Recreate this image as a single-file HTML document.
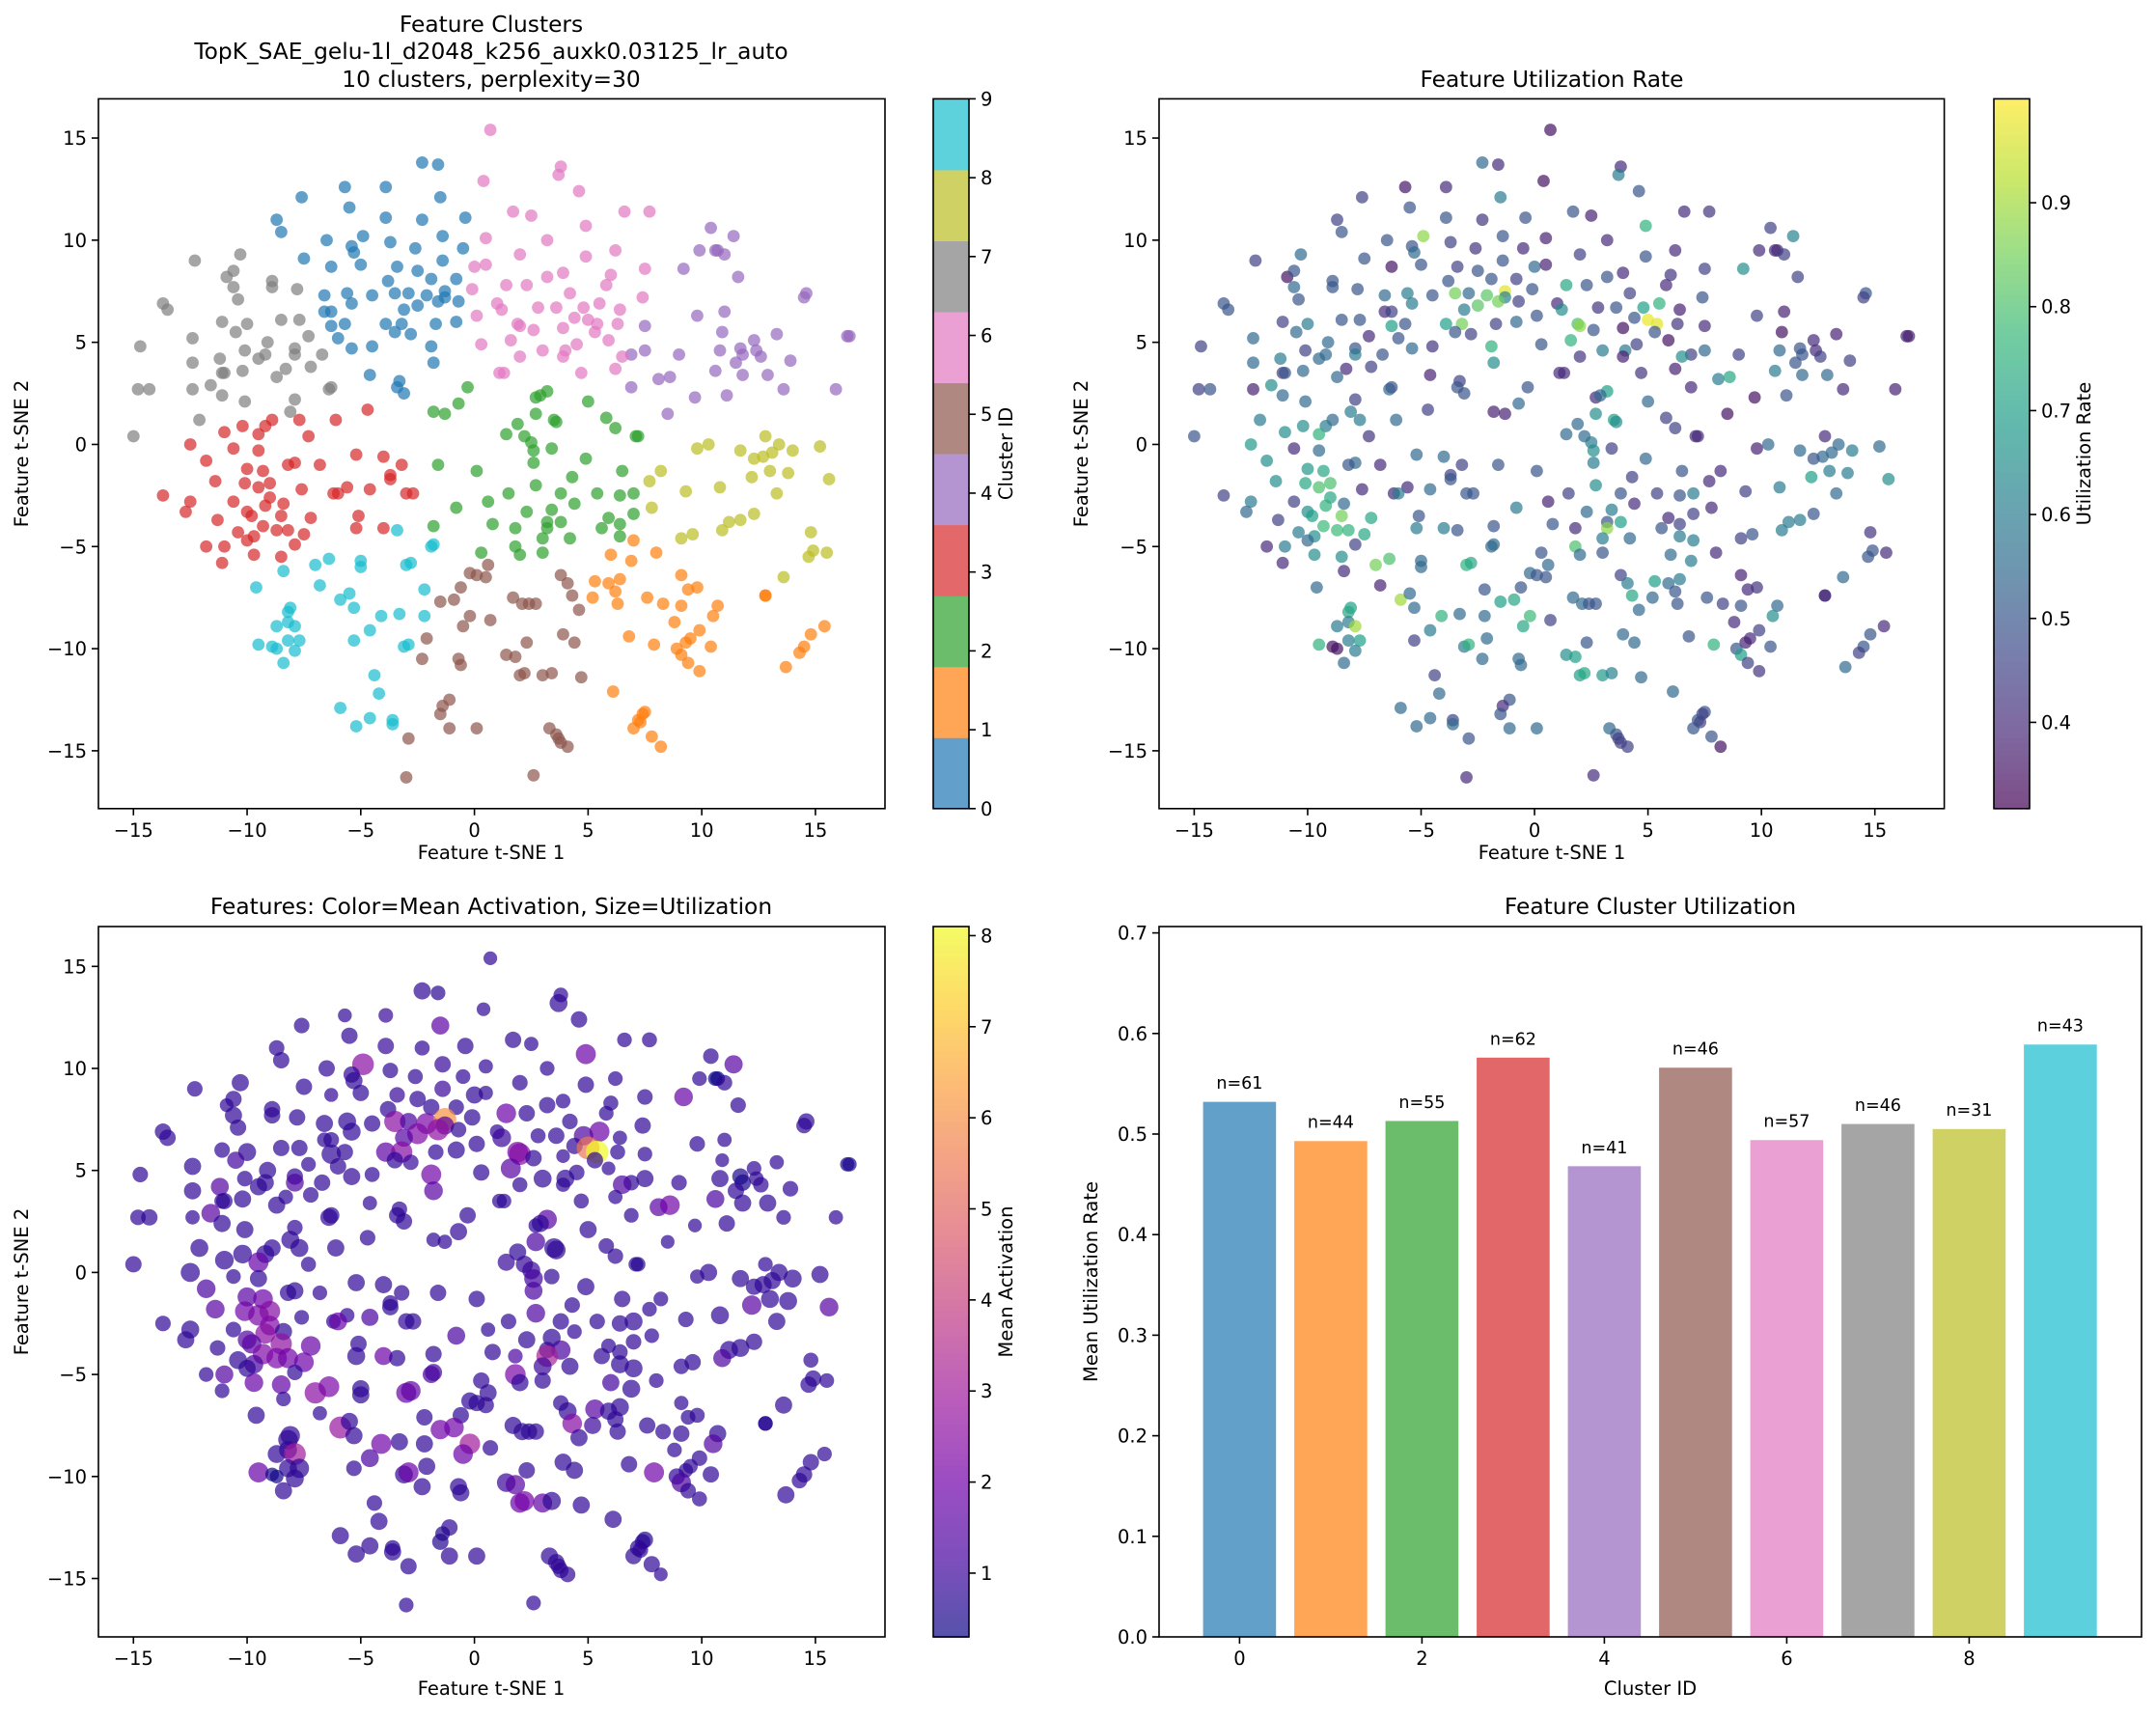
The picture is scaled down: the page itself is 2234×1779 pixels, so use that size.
<!DOCTYPE html>
<html><head><meta charset="utf-8"><style>
html,body{margin:0;padding:0;background:#fff}
svg text{font-family:"DejaVu Sans","Liberation Sans",sans-serif;fill:#000}
</style></head><body>
<svg id="fig" xmlns="http://www.w3.org/2000/svg" width="2234" height="1774" viewBox="0 0 2234 1774">
<rect width="2234" height="1774" fill="#fff"/>
<g id="g-tl"></g>
<g id="g-tr"></g>
<g id="g-bl"></g>
<g id="g-br"></g>
</svg>
<script>
// ---- data: [tsneX, tsneY, utilization, meanActivation] per feature, grouped by cluster ----
const cluster0 = [[-2.3,13.8,.55,.8],[-1.6,13.7,.4,.7],[-5.7,12.6,.36,.8],[-3.9,12.6,.4,.9],[-7.6,12.1,.45,.8],[-1.5,12.1,.6,1.6],[-5.5,11.6,.5,.8],[-8.7,11.0,.45,.8],[-3.9,11.1,.5,.9],[-2.3,11.0,.42,.8],[-0.4,11.1,.5,.8],[-8.5,10.4,.5,.8],[-6.5,10.0,.5,.8],[-4.9,10.2,.88,2.5],[-1.4,10.2,.5,.9],[-3.7,9.9,.45,.8],[-5.4,9.7,.5,.8],[-5.3,9.4,.55,.8],[-2.6,9.6,.42,.8],[-0.5,9.6,.4,.8],[-7.5,9.1,.5,.8],[-1.4,9.0,.5,1.0],[-6.3,8.7,.36,.8],[-5.0,8.8,.5,.8],[-3.4,8.7,.45,.9],[-2.5,8.5,.5,.8],[-3.8,8.0,.5,.8],[-1.9,8.1,.5,.8],[-0.8,8.1,.45,.8],[-6.6,7.3,.55,.8],[-5.6,7.4,.6,.8],[-4.5,7.3,.5,.8],[-3.5,7.4,.85,2.5],[-2.9,7.4,.55,1.2],[-2.1,7.3,.82,2.2],[-1.3,7.5,.97,6.1],[-1.3,7.2,.62,1.5],[-5.4,6.9,.6,.8],[-2.5,6.8,.82,2.3],[-1.6,7.0,.85,2.6],[-0.7,7.0,.45,.8],[-6.6,6.5,.4,.8],[-6.3,6.5,.45,.8],[-3.1,6.6,.6,1.4],[-6.3,5.8,.7,.8],[-5.7,5.9,.5,.8],[-3.9,5.9,.7,1.6],[-3.2,5.9,.85,2.4],[-1.7,5.9,.45,.8],[-0.8,6.0,.55,.8],[-6.0,5.2,.5,.8],[-3.5,5.5,.5,.8],[-2.8,5.4,.45,.9],[-5.4,4.7,.55,.8],[-4.5,4.8,.42,.8],[-1.9,4.8,.75,2.0],[-1.8,4.0,.65,1.5],[-4.6,3.4,.38,.8],[-3.3,3.1,.45,.8],[-3.4,2.8,.5,.8],[-3.1,2.5,.5,.8]];
const cluster1 = [[7.0,-4.7,.6,.8],[6.0,-5.4,.55,1.1],[6.9,-5.7,.6,.8],[8.0,-5.3,.4,.8],[5.3,-6.7,.7,1.5],[5.9,-6.8,.55,.8],[6.4,-6.6,.6,.8],[6.2,-7.2,.5,.8],[9.1,-6.4,.38,.8],[9.4,-7.1,.4,.8],[9.8,-7.0,.42,.8],[12.8,-7.4,.4,.7],[12.8,-7.4,.4,.7],[5.2,-7.5,.55,1.0],[6.3,-7.8,.5,.8],[7.6,-7.5,.5,.8],[8.3,-7.8,.45,.8],[9.1,-7.9,.5,.8],[10.7,-7.9,.55,.8],[10.5,-8.4,.65,1.4],[8.8,-8.7,.4,.8],[6.8,-9.4,.5,.8],[7.9,-9.8,.75,2.0],[9.9,-9.1,.45,.8],[9.5,-9.5,.4,.8],[9.3,-9.7,.38,.8],[8.9,-10.0,.5,.8],[9.1,-10.3,.7,1.3],[10.4,-9.9,.5,.8],[9.4,-10.7,.45,.8],[9.9,-11.1,.42,.8],[15.4,-8.9,.4,.8],[14.8,-9.3,.5,.8],[14.5,-9.9,.5,.8],[14.3,-10.2,.45,.8],[13.7,-10.9,.55,.8],[6.1,-12.1,.55,.8],[7.5,-13.1,.5,.7],[7.4,-13.2,.45,.7],[7.2,-13.5,.5,.8],[7.3,-13.6,.45,.8],[7.0,-13.9,.5,.8],[7.8,-14.3,.5,.8],[8.2,-14.8,.35,.8]];
const cluster2 = [[-0.3,2.8,.5,.8],[-0.7,2.0,.55,.8],[-1.8,1.6,.38,.8],[-1.3,1.5,.38,.8],[3.2,2.6,.7,1.5],[2.7,2.3,.4,.8],[2.9,2.4,.55,.8],[2.7,1.5,.65,1.2],[1.9,1.0,.55,.8],[3.5,1.2,.7,.8],[3.6,1.1,.65,.8],[5.0,2.1,.55,.8],[5.8,1.3,.45,.8],[6.2,0.8,.45,.8],[7.1,0.4,.4,.7],[7.2,0.4,.4,.7],[1.4,0.5,.55,.9],[2.2,0.4,.55,.9],[2.5,0.1,.6,1.0],[2.6,-0.3,.65,1.1],[3.4,-0.2,.45,.8],[4.9,-0.7,.55,.8],[-1.6,-1.0,.5,.8],[0.1,-1.3,.5,.8],[2.6,-0.9,.6,1.2],[6.5,-1.3,.5,.8],[4.3,-1.6,.45,.8],[2.7,-2.0,.65,1.3],[1.5,-2.4,.45,.8],[3.8,-2.4,.5,.8],[5.4,-2.4,.45,.8],[6.4,-2.5,.5,.8],[7.0,-2.4,.6,.8],[0.6,-2.8,.38,.8],[-0.8,-3.1,.6,1.2],[3.4,-3.2,.6,.8],[4.4,-2.9,.4,.8],[2.3,-3.3,.55,.8],[7.0,-3.4,.45,.8],[0.8,-3.9,.5,.8],[3.2,-3.8,.5,.8],[3.8,-3.8,.7,1.2],[5.9,-3.6,.4,.8],[6.4,-3.9,.45,.8],[5.6,-4.1,.5,.8],[-1.8,-4.0,.5,.8],[1.8,-4.1,.4,1.2],[3.2,-4.1,.88,3.2],[6.4,-4.5,.6,.8],[3.0,-4.6,.6,1.0],[4.2,-4.6,.55,.8],[1.8,-5.0,.8,2.2],[2.0,-5.4,.55,.8],[3.0,-5.3,.5,.8],[0.3,-5.3,.5,.8]];
const cluster3 = [[-4.7,1.7,.45,.8],[-6.1,1.2,.55,.8],[-7.7,1.2,.6,.8],[-8.9,1.2,.55,.8],[-10.2,0.9,.65,.8],[-9.2,0.9,.6,.8],[-11.0,0.6,.65,.8],[-9.5,0.5,.75,1.8],[-7.3,0.4,.42,.8],[-12.5,0.0,.68,.8],[-10.6,-0.2,.4,.8],[-9.5,-0.3,.55,.8],[-5.2,-0.5,.55,.8],[-4.0,-0.6,.55,.8],[-11.8,-0.8,.65,1.2],[-7.9,-0.9,.55,.8],[-8.2,-1.0,.5,.8],[-6.8,-1.0,.4,.8],[-3.2,-1.0,.45,.8],[-10.0,-1.2,.68,1.5],[-9.3,-1.3,.72,1.9],[-3.7,-1.5,.45,.8],[-3.7,-1.7,.5,.8],[-11.4,-1.8,.65,1.5],[-10.1,-1.9,.72,2.0],[-9.5,-2.1,.8,2.2],[-9.0,-1.9,.8,2.4],[-7.6,-2.2,.4,.8],[-5.6,-2.1,.4,.8],[-4.6,-2.2,.55,1.2],[-3.0,-2.4,.5,.8],[-2.7,-2.4,.5,.8],[-6.2,-2.4,.4,.8],[-6.0,-2.4,.6,1.8],[-13.7,-2.5,.45,.8],[-9.0,-2.6,.72,2.3],[-12.5,-2.8,.6,.8],[-10.6,-2.8,.45,.8],[-9.2,-3.0,.75,2.5],[-8.4,-2.9,.55,.8],[-12.7,-3.3,.55,.8],[-10.0,-3.3,.65,1.4],[-9.8,-3.5,.7,1.5],[-8.5,-3.5,.85,2.6],[-5.1,-3.5,.5,.8],[-7.2,-3.6,.72,1.8],[-11.3,-3.7,.45,.8],[-9.3,-4.0,.78,2.3],[-10.4,-4.3,.6,.8],[-8.7,-4.2,.78,2.2],[-8.2,-4.2,.75,2.0],[-7.5,-4.4,.72,1.9],[-4.0,-4.1,.6,1.9],[-5.2,-4.1,.6,.8],[-9.7,-4.5,.65,1.2],[-10.0,-4.7,.55,.8],[-7.9,-4.9,.45,.8],[-11.8,-5.0,.4,.8],[-11.0,-5.0,.6,1.4],[-9.7,-5.4,.65,1.8],[-8.5,-5.5,.65,1.7],[-11.1,-5.8,.4,.8]];
const cluster4 = [[10.4,10.6,.45,.8],[11.4,10.2,.62,1.5],[9.9,9.5,.4,.8],[10.6,9.5,.4,.3],[10.7,9.5,.4,.3],[11.0,9.3,.45,.8],[9.2,8.6,.65,1.8],[11.6,8.2,.45,.8],[14.6,7.4,.5,.8],[14.5,7.2,.45,.8],[9.8,6.3,.45,.8],[11.0,6.5,.38,.8],[7.5,5.8,.4,.8],[10.9,5.5,.35,.8],[12.3,5.1,.4,.8],[13.3,5.4,.38,.8],[16.4,5.3,.38,.5],[16.5,5.3,.38,.5],[6.9,4.4,.45,.8],[7.5,4.6,.55,.8],[9.0,4.4,.45,.8],[10.8,4.6,.55,.8],[11.7,4.7,.5,.5],[11.8,4.4,.5,.5],[12.4,4.6,.4,.8],[12.6,4.3,.45,.8],[11.5,4.0,.5,.8],[13.9,4.1,.45,.8],[10.6,3.6,.6,1.2],[11.8,3.4,.55,.8],[12.9,3.4,.55,.8],[8.1,3.2,.6,1.5],[8.6,3.3,.72,2.0],[6.9,2.8,.4,.8],[13.6,2.7,.4,.8],[15.9,2.7,.38,.8],[9.7,2.3,.35,.8],[11.1,2.4,.5,.8],[8.5,1.5,.35,.8]];
const cluster5 = [[0.6,-5.9,.55,.8],[-0.2,-6.3,.55,.8],[0.1,-6.4,.5,.8],[0.5,-6.5,.5,.8],[-0.6,-7.0,.5,.8],[3.8,-6.4,.45,.8],[4.1,-6.8,.6,.8],[-1.5,-7.7,.7,2.0],[-0.9,-7.6,.72,2.0],[1.7,-7.5,.55,.8],[2.1,-7.8,.55,.8],[2.4,-7.8,.5,.8],[2.7,-7.8,.5,.8],[4.3,-7.4,.72,2.4],[4.6,-8.1,.55,.8],[-0.2,-8.4,.78,3.0],[0.7,-8.6,.45,.8],[-0.5,-8.9,.72,1.9],[-2.1,-9.5,.55,.8],[3.9,-9.3,.55,.8],[4.4,-9.7,.55,.8],[2.3,-9.7,.5,.8],[1.4,-10.3,.65,1.0],[1.8,-10.4,.7,1.5],[-2.3,-10.5,.55,.8],[-0.7,-10.5,.55,.8],[-0.6,-10.8,.55,.8],[2.0,-11.3,.7,1.9],[2.2,-11.2,.72,2.1],[3.0,-11.3,.68,1.7],[3.4,-11.2,.62,.8],[4.7,-11.4,.55,.8],[-1.1,-12.5,.5,.8],[-1.4,-12.8,.4,.6],[-1.5,-13.2,.5,.6],[-1.1,-13.9,.55,.8],[0.1,-13.9,.55,.8],[3.3,-13.9,.55,.8],[3.6,-14.2,.5,.8],[3.7,-14.4,.45,.8],[3.8,-14.6,.45,.8],[4.1,-14.8,.45,.8],[-2.9,-14.4,.5,.8],[-3.0,-16.3,.4,.8],[2.6,-16.2,.4,.8]];
const cluster6 = [[0.7,15.4,.35,.8],[0.4,12.9,.35,.8],[3.8,13.6,.4,.8],[3.7,13.2,.6,.8],[4.6,12.4,.5,.8],[1.7,11.4,.5,.8],[2.5,11.2,.38,.8],[6.6,11.4,.4,.8],[7.7,11.4,.42,.8],[4.9,10.7,.75,1.9],[0.5,10.1,.38,.8],[3.2,10.0,.4,.8],[2.0,9.3,.45,.8],[4.9,9.2,.5,.8],[6.2,9.5,.4,.8],[0.0,8.7,.55,.8],[0.5,8.8,.38,.8],[3.9,8.4,.4,.8],[7.5,8.6,.45,.8],[3.2,8.2,.5,.8],[6.0,8.3,.42,.8],[1.4,7.8,.72,1.9],[2.3,7.8,.5,.8],[5.8,7.8,.4,.8],[-0.1,7.6,.5,.8],[4.2,7.4,.45,.8],[7.4,7.2,.5,.8],[1.0,6.9,.4,.8],[1.2,6.6,.65,1.0],[3.6,6.7,.5,.8],[2.8,6.7,.42,.8],[4.8,6.7,.7,1.3],[5.5,6.9,.75,1.9],[6.4,6.6,.38,.8],[0.1,6.3,.5,.8],[4.4,6.2,.5,.8],[5.0,6.1,.98,5.4],[1.9,5.9,.8,2.2],[2.0,5.8,.88,2.4],[5.4,5.9,.97,8.1],[6.3,5.9,.42,.8],[2.6,5.6,.5,.8],[3.9,5.7,.35,.8],[5.3,5.5,.5,.8],[1.6,5.1,.75,1.5],[5.9,5.1,.35,.8],[0.3,4.9,.5,.8],[4.5,4.9,.45,.8],[3.0,4.6,.6,.8],[4.0,4.6,.6,.8],[3.9,4.3,.38,.8],[2.0,4.3,.42,.8],[6.5,4.3,.65,1.3],[6.2,3.7,.38,.8],[4.7,3.5,.42,.8],[1.1,3.5,.4,.8],[1.3,3.5,.4,.8]];
const cluster7 = [[-12.3,9.0,.45,.8],[-10.3,9.3,.55,.8],[-10.9,8.2,.35,.8],[-10.6,8.5,.5,.8],[-10.6,7.7,.55,.8],[-10.4,7.1,.5,.8],[-8.9,8.0,.5,.8],[-8.9,7.7,.5,.8],[-7.8,7.6,.5,.8],[-13.7,6.9,.5,.8],[-13.5,6.6,.5,.8],[-11.1,6.0,.45,.8],[-10.0,5.9,.6,.8],[-10.5,5.5,.55,1.1],[-8.5,6.1,.5,.8],[-7.7,6.1,.5,.8],[-7.3,5.3,.4,.8],[-12.4,5.2,.55,.8],[-14.7,4.8,.45,.8],[-9.1,5.0,.55,.8],[-10.1,4.6,.45,.8],[-9.2,4.4,.55,.8],[-9.5,4.2,.55,.8],[-7.9,4.7,.5,.8],[-7.9,4.4,.6,1.3],[-6.7,4.4,.5,.8],[-12.4,4.0,.55,.8],[-11.2,4.2,.6,1.4],[-10.2,3.6,.55,.8],[-8.3,3.7,.4,.8],[-7.2,3.8,.45,.8],[-11.1,3.5,.45,.8],[-11.0,3.5,.5,.8],[-8.7,3.3,.55,.8],[-14.8,2.7,.45,.8],[-14.3,2.7,.5,.8],[-12.4,2.7,.38,.8],[-11.6,2.9,.65,1.5],[-11.1,2.4,.55,.8],[-6.4,2.7,.55,.8],[-6.3,2.8,.5,.8],[-7.9,2.2,.45,.8],[-10.1,2.1,.55,.8],[-8.1,1.6,.6,.8],[-12.1,1.2,.6,.8],[-15.0,0.4,.5,.8]];
const cluster8 = [[12.8,0.4,.4,.8],[13.4,0.0,.55,.8],[10.3,0.0,.55,.8],[9.8,-0.2,.38,.8],[11.7,-0.3,.55,.8],[12.7,-0.6,.55,.8],[12.3,-0.7,.5,.8],[13.1,-0.4,.55,.8],[14.0,-0.3,.6,.8],[15.2,-0.1,.55,.8],[8.2,-1.3,.4,.8],[13.0,-1.3,.6,.8],[13.8,-1.4,.6,.8],[12.2,-1.6,.7,1.5],[7.7,-1.8,.4,.8],[15.6,-1.7,.65,1.5],[10.8,-2.1,.6,.8],[9.3,-2.3,.45,.8],[13.3,-2.4,.55,.8],[7.8,-3.1,.4,.8],[12.3,-3.4,.5,.8],[11.7,-3.7,.6,.8],[11.2,-3.8,.6,.8],[10.9,-4.2,.6,1.3],[9.6,-4.4,.5,.8],[9.1,-4.6,.45,.8],[14.8,-4.3,.42,.8],[14.9,-5.2,.5,.8],[15.5,-5.3,.4,.8],[14.7,-5.5,.5,.8],[13.6,-6.5,.55,.8]];
const cluster9 = [[-3.4,-4.2,.5,.8],[-1.8,-4.9,.55,1.1],[-1.9,-5.0,.55,1.2],[-7.0,-5.9,.85,2.5],[-6.4,-5.6,.8,2.2],[-5.0,-5.7,.55,.8],[-5.0,-6.0,.55,.8],[-3.0,-5.9,.75,1.8],[-2.8,-5.8,.72,1.7],[-8.4,-6.2,.4,.8],[-9.6,-7.0,.55,.8],[-6.8,-6.9,.38,.8],[-2.2,-7.1,.5,.8],[-5.9,-7.6,.9,2.8],[-5.5,-7.3,.55,.8],[-5.3,-8.0,.55,.8],[-8.1,-8.0,.7,.8],[-8.2,-8.2,.72,.8],[-8.2,-8.7,.6,.8],[-8.7,-8.9,.6,.8],[-7.9,-8.9,.9,3.0],[-4.1,-8.4,.75,2.0],[-3.3,-8.3,.55,.8],[-2.2,-8.4,.55,.8],[-4.6,-9.1,.6,1.2],[-8.2,-9.6,.6,.8],[-7.7,-9.6,.7,.8],[-9.5,-9.8,.75,1.8],[-8.9,-9.9,.35,.4],[-8.7,-10.0,.35,.4],[-7.9,-10.1,.6,.8],[-5.3,-9.6,.45,.8],[-3.1,-9.9,.6,.8],[-2.9,-9.8,.75,1.9],[-8.4,-10.7,.55,.8],[-4.4,-11.3,.45,.8],[-4.2,-12.2,.55,.8],[-5.9,-12.9,.55,.8],[-5.2,-13.8,.55,.8],[-4.6,-13.4,.55,.8],[-3.6,-13.5,.45,.7],[-3.6,-13.7,.55,.8]];
const clusterMeans = [0.532, 0.493, 0.513, 0.576, 0.468, 0.566, 0.494, 0.510, 0.505, 0.589];
const clusterCounts = [61, 44, 55, 62, 41, 46, 57, 46, 31, 43];
const tsneTicks = [-15, -10, -5, 0, 5, 10, 15];
const barYTicks = [0, 0.1, 0.2, 0.3, 0.4, 0.5, 0.6, 0.7];
const barXTicks = [0, 2, 4, 6, 8];
const utilCbTicks = [0.4, 0.5, 0.6, 0.7, 0.8, 0.9];
const actCbTicks = [1, 2, 3, 4, 5, 6, 7, 8];
const clusterCbTicks = [0,1,2,3,4,5,6,7,8,9];

const clusters = [cluster0,cluster1,cluster2,cluster3,cluster4,cluster5,cluster6,cluster7,cluster8,cluster9];
const TAB10 = ['#1f77b4','#ff7f0e','#2ca02c','#d62728','#9467bd','#8c564b','#e377c2','#7f7f7f','#bcbd22','#17becf'];
const VIR = ['#440154','#482878','#3e4989','#31688e','#26828e','#1f9e89','#35b779','#6ece58','#b5de2b','#fde725'];
const PLA = ['#0d0887','#46039f','#7201a8','#9c179e','#bd3786','#d8576b','#ed7953','#fb9f3a','#fdca26','#f0f921'];
function hex(h){return [parseInt(h.slice(1,3),16),parseInt(h.slice(3,5),16),parseInt(h.slice(5,7),16)];}
function cmapRGB(stops,t){t=Math.max(0,Math.min(1,t));const n=stops.length-1;const i=Math.min(n-1,Math.floor(t*n));const f=t*n-i;const a=hex(stops[i]),b=hex(stops[i+1]);return a.map((v,k)=>v+(b[k]-v)*f);}
function cmap(stops,t){return 'rgb('+cmapRGB(stops,t).map(Math.round).join(',')+')';}
function cmapW(stops,t){return 'rgb('+cmapRGB(stops,t).map(v=>Math.round(v*0.7+255*0.3)).join(',')+')';}
function hexW(h){return 'rgb('+hex(h).map(v=>Math.round(v*0.7+255*0.3)).join(',')+')';}
const NS='http://www.w3.org/2000/svg';
function el(parent,tag,attrs,text){const e=document.createElementNS(NS,tag);for(const k in attrs)e.setAttribute(k,attrs[k]);if(text!==undefined)e.textContent=text;parent.appendChild(e);return e;}
function fmtTick(v){return v<0?'\u2212'+Math.abs(v):String(v);}

function scatterAxes(g,L,R,T,B,xmin,xmax,ymin,ymax){
  const sx=v=>L+(v-xmin)/(xmax-xmin)*(R-L);
  const sy=v=>B-(v-ymin)/(ymax-ymin)*(B-T);
  return {sx,sy};
}
function drawFrame(g,L,R,T,B){
  const f=el(g,'rect',{x:L,y:T,width:R-L,height:B-T,fill:'none',stroke:'#000','stroke-width':1.6});
  
  
}
function xTicks(g,ticks,sx,B,fmt){
  ticks.forEach(t=>{const x=sx(t);
    const l=el(g,'line',{x1:x,x2:x,y1:B,y2:B+7,stroke:'#000','stroke-width':1.6});
    
    
    const tx=el(g,'text',{x:x,y:B+29,'font-size':19.5,'text-anchor':'middle'},fmt(t));
    
    });
}
function yTicks(g,ticks,sy,L,fmt){
  ticks.forEach(t=>{const y=sy(t);
    const l=el(g,'line',{x1:L-7,x2:L,y1:y,y2:y,stroke:'#000','stroke-width':1.6});
    
    
    const tx=el(g,'text',{x:L-12,y:y+7,'font-size':19.5,'text-anchor':'end'},fmt(t));
    
    });
}
function label(g,x,y,txt,size,rot,name){
  const a={x:x,y:y,'font-size':size,'text-anchor':'middle'};
  if(rot)a.transform='rotate(-90 '+x+' '+y+')';
  const t=el(g,'text',a,txt);
  
  
}
function gradBar(g,x0,x1,T,B,stops){
  const n=120;
  for(let i=0;i<n;i++){
    const r=el(g,'rect',{x:x0,y:B-(i+1)/n*(B-T),width:x1-x0,height:(B-T)/n+0.8,fill:cmapW(stops,(i+0.5)/n)});
    
    }
  drawFrame(g,x0,x1,T,B);
}

// --- Top-left: clusters ---
(function(){
  const g=document.getElementById('g-tl');
  const L=102,R=917,T=102.4,B=837.8;
  const {sx,sy}=scatterAxes(g,L,R,T,B,-16.54,18.06,-17.83,16.92);
  clusters.forEach((pts,c)=>pts.forEach(p=>{
    const d=el(g,'circle',{cx:sx(p[0]),cy:sy(p[1]),r:6.4,fill:TAB10[c],'fill-opacity':0.7});
    
    }));
  drawFrame(g,L,R,T,B);
  xTicks(g,tsneTicks,sx,B,fmtTick); yTicks(g,tsneTicks,sy,L,fmtTick);
  label(g,509,33,'Feature Clusters',23.3,false,'title-line-1');
  label(g,509,61,'TopK_SAE_gelu-1l_d2048_k256_auxk0.03125_lr_auto',23.3,false,'title-line-2');
  label(g,509,90,'10 clusters, perplexity=30',23.3,false,'title-line-3');
  label(g,509,890,'Feature t-SNE 1',19.5,false,'x-axis-title');
  label(g,29,470,'Feature t-SNE 2',19.5,true,'y-axis-title');
  const x0=967,x1=1004,cs=v=>B-(v)/9*(B-T);
  for(let i=0;i<10;i++){
    const r=el(g,'rect',{x:x0,y:B-(i+1)/10*(B-T),width:x1-x0,height:(B-T)/10+0.5,fill:hexW(TAB10[i])});
    
    }
  drawFrame(g,x0,x1,T,B);
  clusterCbTicks.forEach(t=>{const y=cs(t);el(g,'line',{x1:x1,x2:x1+7,y1:y,y2:y,stroke:'#000','stroke-width':1.6});
    const tx=el(g,'text',{x:x1+12,y:y+7,'font-size':19.5},String(t));
    
    });
  label(g,1049,470,'Cluster ID',19.5,true,'colorbar-label');
})();

// --- Top-right: utilization ---
(function(){
  const g=document.getElementById('g-tr');
  const L=1201,R=2014.6,T=102.4,B=837.8;
  const {sx,sy}=scatterAxes(g,L,R,T,B,-15-(1237.4-1201)/23.51,15+(2014.6-1942.7)/23.51,-17.83,16.92);
  const umin=0.317,umax=1.0;
  clusters.forEach(pts=>pts.forEach(p=>{
    const d=el(g,'circle',{cx:sx(p[0]),cy:sy(p[1]),r:6.4,fill:cmap(VIR,(p[2]-umin)/(umax-umin)),'fill-opacity':0.7});
    
    }));
  drawFrame(g,L,R,T,B);
  xTicks(g,tsneTicks,sx,B,fmtTick); yTicks(g,tsneTicks,sy,L,fmtTick);
  label(g,1608,90,'Feature Utilization Rate',23.3,false,'title');
  label(g,1608,890,'Feature t-SNE 1',19.5,false,'x-axis-title');
  label(g,1127,470,'Feature t-SNE 2',19.5,true,'y-axis-title');
  gradBar(g,2066,2103,T,B,VIR);
  const sc=v=>B-(v-umin)/(umax-umin)*(B-T);
  utilCbTicks.forEach(t=>{const y=sc(t);el(g,'line',{x1:2103,x2:2110,y1:y,y2:y,stroke:'#000','stroke-width':1.6});
    const tx=el(g,'text',{x:2115,y:y+7,'font-size':19.5},t.toFixed(1));
    
    });
  label(g,2166,470,'Utilization Rate',19.5,true,'colorbar-label');
})();

// --- Bottom-left: activation ---
(function(){
  const g=document.getElementById('g-bl');
  const L=102,R=917,T=960,B=1696;
  const yu=21.14, y0=1318.4;
  const {sx,sy}=scatterAxes(g,L,R,T,B,-16.54,18.06,-(B-y0)/yu,(y0-T)/yu);
  const amin=0.30,amax=8.1;
  clusters.forEach(c=>c.forEach(p=>{
    const d=el(g,'circle',{cx:sx(p[0]),cy:sy(p[1]),r:12*Math.sqrt(p[2]),fill:cmap(PLA,(p[3]-amin)/(amax-amin)),'fill-opacity':0.7});
    
    }));
  drawFrame(g,L,R,T,B);
  xTicks(g,tsneTicks,sx,B,fmtTick); yTicks(g,tsneTicks,sy,L,fmtTick);
  label(g,509,947,'Features: Color=Mean Activation, Size=Utilization',23.3,false,'title');
  label(g,509,1756,'Feature t-SNE 1',19.5,false,'x-axis-title');
  label(g,29,1328,'Feature t-SNE 2',19.5,true,'y-axis-title');
  gradBar(g,967,1004,T,B,PLA);
  const sc=v=>B-(v-amin)/(amax-amin)*(B-T);
  actCbTicks.forEach(t=>{const y=sc(t);el(g,'line',{x1:1004,x2:1011,y1:y,y2:y,stroke:'#000','stroke-width':1.6});
    const tx=el(g,'text',{x:1016,y:y+7,'font-size':19.5},String(t));
    
    });
  label(g,1049,1328,'Mean Activation',19.5,true,'colorbar-label');
})();

// --- Bottom-right: bars ---
(function(){
  const g=document.getElementById('g-br');
  const L=1201,R=2219,T=960,B=1696;
  const sx=v=>1284.4+v*94.5;
  const sy=v=>B-v/0.1*104.2;
  clusterMeans.forEach((m,i)=>{
    const r=el(g,'rect',{x:sx(i)-37.8,y:sy(m),width:75.6,height:B-sy(m),fill:TAB10[i],'fill-opacity':0.7});
    
    
    const t=el(g,'text',{x:sx(i),y:sy(m+0.013),'font-size':17.5,'text-anchor':'middle'},'n='+clusterCounts[i]);
    
    
  });
  drawFrame(g,L,R,T,B);
  xTicks(g,barXTicks,sx,B,String); yTicks(g,barYTicks,sy,L,v=>v.toFixed(1));
  label(g,1710,947,'Feature Cluster Utilization',23.3,false,'title');
  label(g,1710,1756,'Cluster ID',19.5,false,'x-axis-title');
  label(g,1137,1328,'Mean Utilization Rate',19.5,true,'y-axis-title');
})();
</script>
</body></html>
